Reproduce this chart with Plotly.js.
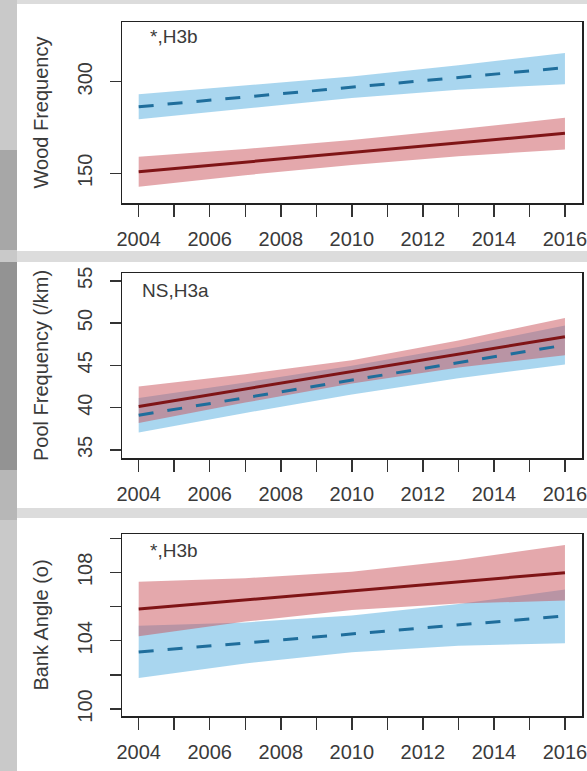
<!DOCTYPE html>
<html>
<head>
<meta charset="utf-8">
<script src="https://cdn.plot.ly/plotly-3.0.1.min.js"></script>
<style>html,body{margin:0;padding:0;background:#dcdcdc;}#chart{width:587px;height:771px;}</style>
</head>
<body>
<div id="chart"></div>
<script>
// ---- data ----
const years = [2004, 2007, 2010, 2013, 2016];
const tickYears = [2004, 2005, 2006, 2007, 2008, 2009, 2010, 2011, 2012, 2013, 2014, 2015, 2016];
const tickYearLabels = ['2004', '', '2006', '', '2008', '', '2010', '', '2012', '', '2014', '', '2016'];

const woodRedFit   = [152.6, 168.3, 184.0, 199.8, 215.5];
const woodRedUpper = [177.0, 190.0, 204.5, 222.0, 241.0];
const woodRedLower = [128.0, 147.0, 163.5, 178.0, 189.0];
const woodBlueFit   = [259.0, 275.0, 291.0, 307.0, 323.0];
const woodBlueUpper = [279.5, 293.5, 308.5, 327.0, 347.0];
const woodBlueLower = [238.5, 256.5, 273.5, 287.0, 296.0];
const woodTicks = [150, 300];
const woodTickLabels = ['150', '300'];

const poolRedFit   = [40.15, 42.20, 44.27, 46.33, 48.39];
const poolRedUpper = [42.50, 43.95, 45.60, 47.95, 50.60];
const poolRedLower = [38.20, 40.60, 42.85, 44.75, 46.20];
const poolBlueFit   = [39.10, 41.18, 43.25, 45.33, 47.40];
const poolBlueUpper = [41.15, 42.98, 44.95, 47.18, 49.70];
const poolBlueLower = [37.05, 39.38, 41.55, 43.48, 45.10];
const poolTicks = [35, 40, 45, 50, 55];
const poolTickLabels = ['35', '40', '45', '50', '55'];

const bankRedFit   = [105.86, 106.39, 106.92, 107.45, 107.98];
const bankRedUpper = [107.46, 107.66, 108.04, 108.72, 109.61];
const bankRedLower = [104.26, 105.12, 105.80, 106.18, 106.35];
const bankBlueFit   = [103.34, 103.87, 104.40, 104.93, 105.45];
const bankBlueUpper = [104.87, 105.07, 105.48, 106.15, 107.00];
const bankBlueLower = [101.81, 102.67, 103.32, 103.71, 103.85];
const bankTicks = [100, 102, 104, 106, 108, 110];
const bankTickLabels = ['100', '', '104', '', '108', ''];

const panelTitles = ['Wood Frequency', 'Pool Frequency (/km)', 'Bank Angle (o)'];
const panelTags = ['*,H3b', 'NS,H3a', '*,H3b'];

// ---- styles ----
const redFill = 'rgba(201,81,89,0.5)';
const blueFill = 'rgba(75,170,222,0.48)';
const redLine = '#7f1416';
const blueLine = '#1f6e9c';
const FONT = 'Liberation Sans, Arial, sans-serif';

function band(xs, up, lo, color, xa, ya) {
  return {
    x: xs.concat(xs.slice().reverse()),
    y: up.concat(lo.slice().reverse()),
    fill: 'toself', fillcolor: color, mode: 'lines',
    line: {width: 0, color: 'rgba(0,0,0,0)'},
    hoverinfo: 'skip', showlegend: false, xaxis: xa, yaxis: ya
  };
}
function fit(xs, ys, color, dash, xa, ya) {
  return {
    x: xs, y: ys, mode: 'lines',
    line: {color: color, width: 3, dash: dash},
    showlegend: false, xaxis: xa, yaxis: ya
  };
}

const traces = [
  band(years, woodBlueUpper, woodBlueLower, blueFill, 'x', 'y'),
  band(years, woodRedUpper, woodRedLower, redFill, 'x', 'y'),
  fit(years, woodBlueFit, blueLine, '15px,14px', 'x', 'y'),
  fit(years, woodRedFit, redLine, 'solid', 'x', 'y'),

  band(years, poolBlueUpper, poolBlueLower, blueFill, 'x2', 'y2'),
  band(years, poolRedUpper, poolRedLower, redFill, 'x2', 'y2'),
  fit(years, poolRedFit, redLine, 'solid', 'x2', 'y2'),
  fit(years, poolBlueFit, blueLine, '15px,14px', 'x2', 'y2'),

  band(years, bankBlueUpper, bankBlueLower, blueFill, 'x3', 'y3'),
  band(years, bankRedUpper, bankRedLower, redFill, 'x3', 'y3'),
  fit(years, bankBlueFit, blueLine, '15px,14px', 'x3', 'y3'),
  fit(years, bankRedFit, redLine, 'solid', 'x3', 'y3')
];

const W = 587, H = 771;
const xDom = [122 / W, 582 / W];
const yDoms = [[1 - 203 / H, 1 - 22 / H], [1 - 458 / H, 1 - 273 / H], [1 - 716 / H, 1 - 534 / H]];
const yRanges = [[101.4, 397.8], [34.05, 55.92], [99.59, 110.25]];
const yTickSets = [[woodTicks, woodTickLabels], [poolTicks, poolTickLabels], [bankTicks, bankTickLabels]];

function xAxis(i) {
  return {
    domain: xDom, anchor: i === 0 ? 'y' : 'y' + (i + 1),
    range: [2003.53, 2016.48], tickmode: 'array', tickvals: tickYears, ticktext: tickYearLabels,
    ticks: 'outside', ticklen: 12, tickwidth: 1.5, tickcolor: '#333',
    showline: true, mirror: true, linecolor: '#222', linewidth: 1.5,
    showgrid: false, zeroline: false, ticklabeloverflow: 'allow',
    tickfont: {family: FONT, size: 20, color: '#3a3a3a'}, ticklabelstandoff: 5
  };
}
function yAxis(i) {
  return {
    domain: yDoms[i], anchor: i === 0 ? 'x' : 'x' + (i + 1),
    range: yRanges[i], tickmode: 'array', tickvals: yTickSets[i][0], ticktext: yTickSets[i][1],
    ticks: 'outside', ticklen: 11, tickwidth: 1.5, tickcolor: '#333', tickangle: -90,
    showline: true, mirror: true, linecolor: '#222', linewidth: 1.5,
    showgrid: false, zeroline: false, ticklabeloverflow: 'allow',
    tickfont: {family: FONT, size: 20, color: '#3a3a3a'}, ticklabelstandoff: 10,
    title: {text: panelTitles[i], font: {family: FONT, size: 20, color: '#3a3a3a'}, standoff: 19}
  };
}

function px(xp) { return xp / W; }
function py(yp) { return 1 - yp / H; }
function rect(x0, y0, x1, y1, c) {
  return {type: 'rect', xref: 'paper', yref: 'paper', x0: px(x0), x1: px(x1), y0: py(y1), y1: py(y0),
          fillcolor: c, line: {width: 0}, layer: 'below'};
}

const shapes = [
  rect(0, 0, 17, 771, '#c9c9c9'),
  rect(0, 150, 17, 250, '#a7a7a7'),
  rect(0, 262, 17, 470, '#939393'),
  rect(0, 470, 17, 520, '#b7b7b7'),
  rect(17, 4, 587, 251, '#ffffff'),
  rect(17, 262, 587, 508, '#ffffff'),
  rect(17, 518, 587, 771, '#ffffff')
];

const tagPos = [[148, 36], [140, 290], [148, 550]];
const annotations = panelTags.map((t, i) => ({
  text: t, xref: 'paper', yref: 'paper', x: px(tagPos[i][0]), y: py(tagPos[i][1]),
  xanchor: 'left', yanchor: 'middle', showarrow: false,
  font: {family: FONT, size: 19, color: '#3a3a3a'}
}));

const layout = {
  width: W, height: H, margin: {l: 0, r: 0, t: 0, b: 0},
  paper_bgcolor: '#dcdcdc', plot_bgcolor: 'rgba(0,0,0,0)',
  showlegend: false, shapes: shapes, annotations: annotations,
  xaxis: xAxis(0), xaxis2: xAxis(1), xaxis3: xAxis(2),
  yaxis: yAxis(0), yaxis2: yAxis(1), yaxis3: yAxis(2)
};

Plotly.newPlot('chart', traces, layout, {displayModeBar: false, staticPlot: true});
</script>
</body>
</html>
